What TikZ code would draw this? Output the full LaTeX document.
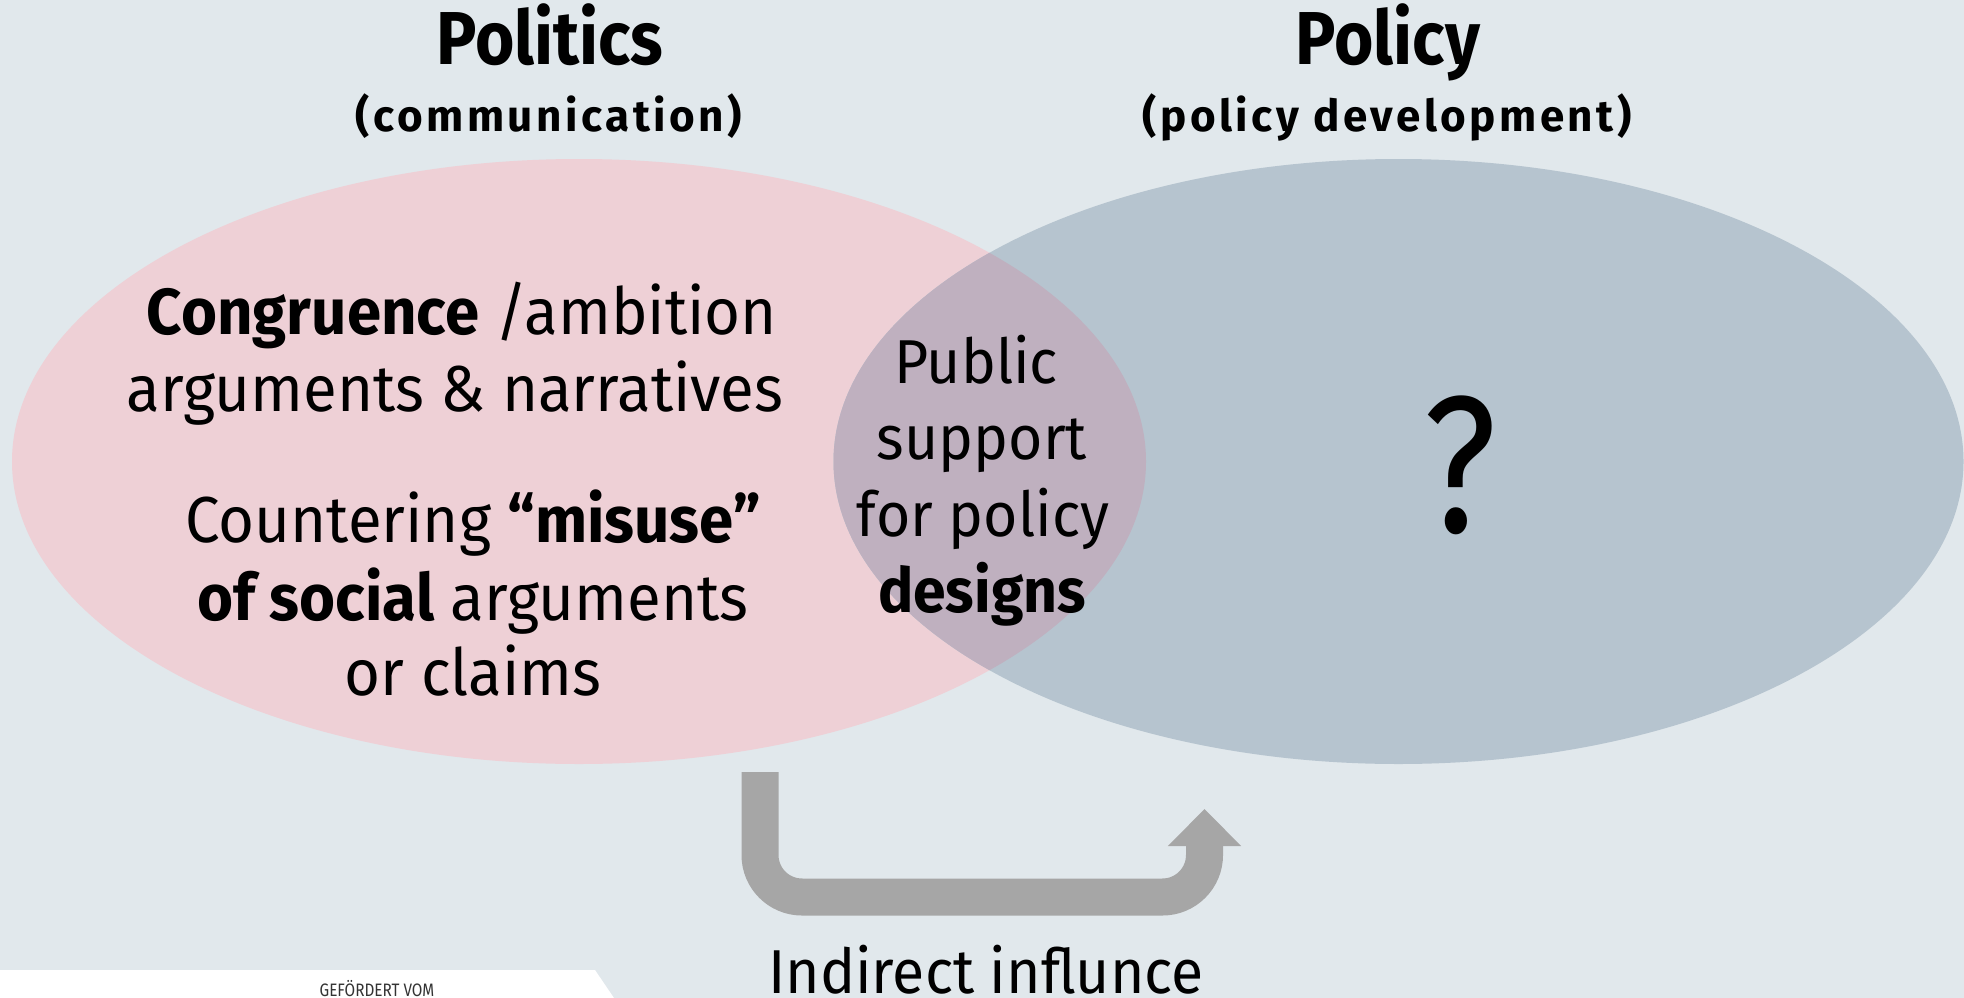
\documentclass[tikz,border=0pt]{standalone}
\usepackage{fontspec}
\setmainfont{Fira Sans}[FakeStretch=0.95]
\newfontfamily\headfont{Fira Sans}[FakeStretch=0.9]
\newfontfamily\subfont{Fira Sans}[LetterSpace=8]
\newfontfamily\qfont{Fira Sans}[FakeStretch=0.82]
\newfontfamily\narrowfont{Fira Sans}[FakeStretch=0.85]
\usetikzlibrary{arrows.meta}
\definecolor{bgcol}{HTML}{E1E8EC}
\definecolor{pinkcol}{HTML}{EED0D6}
\definecolor{bluecol}{HTML}{B6C4CF}
\definecolor{mixcol}{HTML}{BFB0BF}
\definecolor{arrowcol}{HTML}{A6A6A6}
\definecolor{fundcol}{HTML}{333333}
\begin{document}
\begin{tikzpicture}[x=1pt,y=-1pt,
  lbl/.style={anchor=base,inner sep=0pt,text=black},
  title/.style={lbl,font=\headfont\fontsize{75}{75}\selectfont\bfseries},
  subtitle/.style={lbl,font=\subfont\fontsize{44}{44}\selectfont\bfseries},
  body/.style={lbl,font=\fontsize{65}{65}\selectfont},
  inner/.style={lbl,font=\fontsize{62}{62}\selectfont},
  flow/.style={line width=37pt,draw=arrowcol,rounded corners=42pt,
    -{Triangle[width=71pt,length=37pt]}}]
  % canvas
  \fill[bgcol] (0,0) rectangle (1964,998);
  \useasboundingbox (0,0) rectangle (1964,998);
  % funding tab
  \fill[white] (0,970) -- (595,970) -- (614,998) -- (0,998) -- cycle;
  \node[lbl,font=\narrowfont\fontsize{18}{18}\selectfont,text=fundcol] (fund) at (377,996) {GEFÖRDERT VOM};
  % the two sets and their intersection
  \fill[pinkcol] (579,461.5) ellipse [x radius=567, y radius=302.5];
  \fill[bluecol] (1398.5,461.5) ellipse [x radius=565, y radius=302.5];
  \begin{scope}
    \clip (579,461.5) ellipse [x radius=567, y radius=302.5];
    \fill[mixcol] (1398.5,461.5) ellipse [x radius=565, y radius=302.5];
  \end{scope}
  % headings
  \node[title] (politics) at (550,65) {Politics};
  \node[subtitle] (comm) at (549,131) {(communication)};
  \node[title] (policy) at (1388,65) {Policy};
  \node[subtitle] (dev) at (1387,131) {(policy development)};
  % politics set
  \node[body] (c1) at (462,334) {\textbf{Congruence} /ambition};
  \node[body] (c2) at (455,411) {arguments \& narratives};
  \node[body] (m1) at (473,542) {Countering \textbf{“misuse”}};
  \node[body] (m2) at (473,620) {\textbf{of social} arguments};
  \node[body] (m3) at (473,695) {or claims};
  % intersection
  \node[inner] (p1) at (976,383) {Public};
  \node[inner] (p2) at (982,459) {support};
  \node[inner] (p3) at (983,536) {for policy};
  \node[inner] (p4) at (982,612) {\textbf{designs}};
  % policy set
  \node[lbl,font=\qfont\fontsize{195}{195}\selectfont] (q) at (1460,532) {?};
  % indirect influence arrow
  \coordinate (from) at (760,772);
  \coordinate (to) at (1204.5,809);
  \coordinate (low) at (982,897);
  \draw[flow] (from) |- (low) -| (to);
  \node[lbl,font=\fontsize{62}{62}\selectfont] (ind) at (986,993) {Indirect influnce};
\end{tikzpicture}
\end{document}
